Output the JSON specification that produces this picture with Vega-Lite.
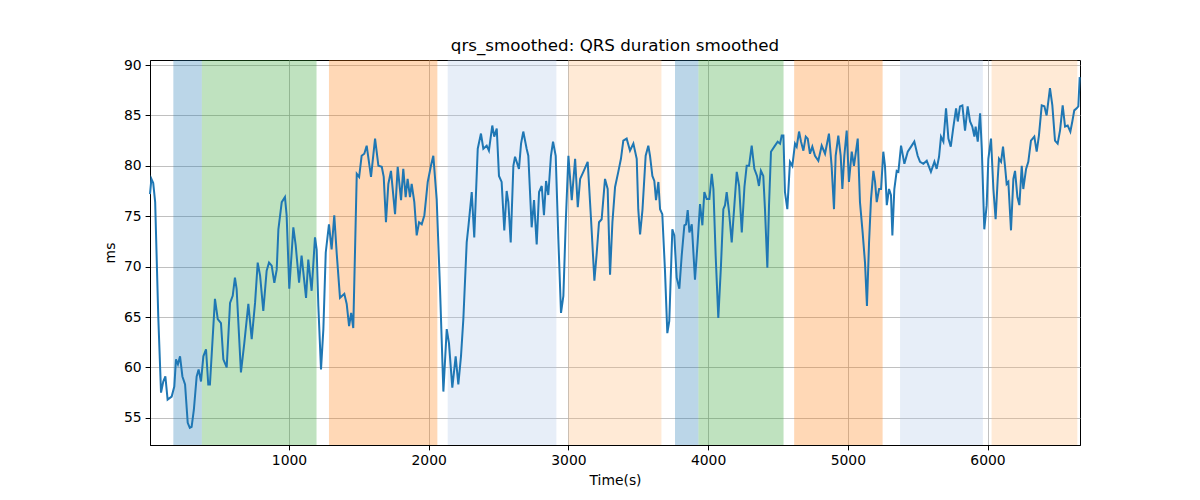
{
  "$schema": "https://vega.github.io/schema/vega-lite/v6.json",
  "width": 930,
  "height": 385,
  "autosize": {"type": "none"},
  "padding": {"left": 150, "top": 60, "right": 120, "bottom": 55},
  "title": {
    "text": "qrs_smoothed: QRS duration smoothed",
    "font": "DejaVu Sans",
    "fontSize": 16.7,
    "fontWeight": "normal",
    "color": "black",
    "offset": 3
  },
  "datasets": {
    "bands": [
      {"start": 172, "end": 376, "kind": "a"},
      {"start": 376, "end": 1197, "kind": "b"},
      {"start": 1286, "end": 2062, "kind": "c"},
      {"start": 2136, "end": 2914, "kind": "d"},
      {"start": 3000, "end": 3666, "kind": "e"},
      {"start": 3763, "end": 3931, "kind": "a"},
      {"start": 3931, "end": 4540, "kind": "b"},
      {"start": 4616, "end": 5249, "kind": "c"},
      {"start": 5374, "end": 5967, "kind": "d"},
      {"start": 6029, "end": 6643, "kind": "e"}
    ],
    "series": [
      {"t": 5, "ms": 77.2}, {"t": 15, "ms": 78.7}, {"t": 28, "ms": 78.3}, {"t": 42, "ms": 76.4},
      {"t": 64, "ms": 65.1}, {"t": 84, "ms": 57.5}, {"t": 100, "ms": 58.6}, {"t": 115, "ms": 59.1},
      {"t": 131, "ms": 56.8}, {"t": 160, "ms": 57.1}, {"t": 179, "ms": 58.1}, {"t": 191, "ms": 60.8},
      {"t": 205, "ms": 60.3}, {"t": 220, "ms": 61.1}, {"t": 237, "ms": 59.1}, {"t": 256, "ms": 58.3},
      {"t": 275, "ms": 54.5}, {"t": 290, "ms": 54.0}, {"t": 303, "ms": 54.1}, {"t": 319, "ms": 55.8},
      {"t": 339, "ms": 59.1}, {"t": 353, "ms": 59.8}, {"t": 370, "ms": 58.6}, {"t": 387, "ms": 61.1},
      {"t": 406, "ms": 61.8}, {"t": 422, "ms": 58.3}, {"t": 434, "ms": 58.3}, {"t": 470, "ms": 66.8},
      {"t": 490, "ms": 64.8}, {"t": 513, "ms": 64.4}, {"t": 530, "ms": 60.8}, {"t": 554, "ms": 60.0},
      {"t": 578, "ms": 66.4}, {"t": 597, "ms": 67.1}, {"t": 613, "ms": 68.9}, {"t": 625, "ms": 67.8},
      {"t": 656, "ms": 59.5}, {"t": 680, "ms": 62.4}, {"t": 709, "ms": 66.3}, {"t": 733, "ms": 62.8},
      {"t": 757, "ms": 66.4}, {"t": 776, "ms": 70.4}, {"t": 793, "ms": 69.1}, {"t": 816, "ms": 65.6},
      {"t": 840, "ms": 69.6}, {"t": 857, "ms": 70.4}, {"t": 876, "ms": 70.1}, {"t": 895, "ms": 68.4},
      {"t": 912, "ms": 69.7}, {"t": 924, "ms": 73.7}, {"t": 948, "ms": 76.4}, {"t": 971, "ms": 76.9},
      {"t": 983, "ms": 75.1}, {"t": 1002, "ms": 67.8}, {"t": 1031, "ms": 73.9}, {"t": 1048, "ms": 72.1},
      {"t": 1072, "ms": 68.4}, {"t": 1090, "ms": 71.1}, {"t": 1122, "ms": 66.9}, {"t": 1138, "ms": 70.7},
      {"t": 1162, "ms": 67.6}, {"t": 1186, "ms": 72.9}, {"t": 1198, "ms": 71.7}, {"t": 1210, "ms": 66.1},
      {"t": 1229, "ms": 59.8}, {"t": 1246, "ms": 63.8}, {"t": 1263, "ms": 71.4}, {"t": 1286, "ms": 74.2},
      {"t": 1305, "ms": 71.7}, {"t": 1324, "ms": 75.1}, {"t": 1341, "ms": 71.4}, {"t": 1365, "ms": 66.9},
      {"t": 1396, "ms": 67.3}, {"t": 1413, "ms": 66.3}, {"t": 1430, "ms": 64.1}, {"t": 1445, "ms": 65.4},
      {"t": 1460, "ms": 63.9}, {"t": 1485, "ms": 79.2}, {"t": 1502, "ms": 78.9}, {"t": 1520, "ms": 81.0},
      {"t": 1539, "ms": 81.2}, {"t": 1556, "ms": 82.0}, {"t": 1587, "ms": 78.9}, {"t": 1616, "ms": 82.7},
      {"t": 1640, "ms": 80.0}, {"t": 1664, "ms": 79.9}, {"t": 1678, "ms": 78.9}, {"t": 1694, "ms": 74.4},
      {"t": 1711, "ms": 78.2}, {"t": 1730, "ms": 79.5}, {"t": 1759, "ms": 75.2}, {"t": 1778, "ms": 79.9},
      {"t": 1802, "ms": 76.6}, {"t": 1818, "ms": 79.7}, {"t": 1835, "ms": 76.9}, {"t": 1849, "ms": 78.7},
      {"t": 1866, "ms": 76.9}, {"t": 1878, "ms": 78.2}, {"t": 1897, "ms": 76.4}, {"t": 1914, "ms": 73.1},
      {"t": 1931, "ms": 74.4}, {"t": 1950, "ms": 74.2}, {"t": 1969, "ms": 75.1}, {"t": 1993, "ms": 78.4},
      {"t": 2016, "ms": 80.0}, {"t": 2033, "ms": 81.0}, {"t": 2057, "ms": 76.7}, {"t": 2081, "ms": 67.8},
      {"t": 2105, "ms": 57.6}, {"t": 2129, "ms": 63.8}, {"t": 2145, "ms": 62.4}, {"t": 2169, "ms": 58.0},
      {"t": 2193, "ms": 61.1}, {"t": 2212, "ms": 58.3}, {"t": 2231, "ms": 61.1}, {"t": 2248, "ms": 64.8},
      {"t": 2272, "ms": 72.4}, {"t": 2285, "ms": 74.1}, {"t": 2308, "ms": 77.4}, {"t": 2326, "ms": 72.9},
      {"t": 2351, "ms": 81.7}, {"t": 2374, "ms": 83.2}, {"t": 2391, "ms": 81.7}, {"t": 2415, "ms": 82.0},
      {"t": 2431, "ms": 81.5}, {"t": 2455, "ms": 84.0}, {"t": 2469, "ms": 82.9}, {"t": 2487, "ms": 83.7},
      {"t": 2503, "ms": 79.0}, {"t": 2522, "ms": 78.4}, {"t": 2541, "ms": 73.6}, {"t": 2558, "ms": 77.5},
      {"t": 2570, "ms": 76.4}, {"t": 2587, "ms": 72.4}, {"t": 2606, "ms": 80.0}, {"t": 2618, "ms": 80.9},
      {"t": 2646, "ms": 79.7}, {"t": 2661, "ms": 82.2}, {"t": 2677, "ms": 83.4}, {"t": 2701, "ms": 81.7},
      {"t": 2713, "ms": 81.0}, {"t": 2737, "ms": 73.9}, {"t": 2754, "ms": 76.6}, {"t": 2773, "ms": 72.2},
      {"t": 2790, "ms": 77.4}, {"t": 2809, "ms": 78.0}, {"t": 2825, "ms": 75.1}, {"t": 2840, "ms": 78.5},
      {"t": 2856, "ms": 77.1}, {"t": 2875, "ms": 81.0}, {"t": 2890, "ms": 82.4}, {"t": 2909, "ms": 81.0},
      {"t": 2928, "ms": 72.7}, {"t": 2947, "ms": 65.4}, {"t": 2964, "ms": 67.1}, {"t": 2981, "ms": 74.4},
      {"t": 3000, "ms": 81.0}, {"t": 3024, "ms": 76.6}, {"t": 3048, "ms": 80.7}, {"t": 3067, "ms": 75.9},
      {"t": 3084, "ms": 78.7}, {"t": 3107, "ms": 79.4}, {"t": 3138, "ms": 80.4}, {"t": 3162, "ms": 74.7},
      {"t": 3186, "ms": 68.6}, {"t": 3203, "ms": 71.4}, {"t": 3219, "ms": 74.4}, {"t": 3238, "ms": 74.7},
      {"t": 3262, "ms": 78.7}, {"t": 3281, "ms": 77.7}, {"t": 3298, "ms": 69.2}, {"t": 3315, "ms": 74.4},
      {"t": 3334, "ms": 77.9}, {"t": 3357, "ms": 79.4}, {"t": 3376, "ms": 80.7}, {"t": 3393, "ms": 82.5},
      {"t": 3417, "ms": 82.7}, {"t": 3441, "ms": 81.5}, {"t": 3465, "ms": 82.2}, {"t": 3489, "ms": 80.7},
      {"t": 3500, "ms": 75.7}, {"t": 3513, "ms": 73.2}, {"t": 3530, "ms": 75.6}, {"t": 3553, "ms": 81.0},
      {"t": 3572, "ms": 82.0}, {"t": 3584, "ms": 81.0}, {"t": 3601, "ms": 79.0}, {"t": 3615, "ms": 78.5},
      {"t": 3627, "ms": 76.6}, {"t": 3644, "ms": 78.4}, {"t": 3656, "ms": 75.7}, {"t": 3672, "ms": 75.2},
      {"t": 3691, "ms": 69.7}, {"t": 3708, "ms": 63.4}, {"t": 3722, "ms": 64.6}, {"t": 3744, "ms": 73.7},
      {"t": 3758, "ms": 73.1}, {"t": 3775, "ms": 68.9}, {"t": 3794, "ms": 67.8}, {"t": 3811, "ms": 71.1},
      {"t": 3830, "ms": 74.1}, {"t": 3842, "ms": 74.2}, {"t": 3854, "ms": 75.6}, {"t": 3866, "ms": 73.4},
      {"t": 3883, "ms": 74.2}, {"t": 3906, "ms": 68.7}, {"t": 3925, "ms": 72.4}, {"t": 3942, "ms": 76.2},
      {"t": 3959, "ms": 74.1}, {"t": 3973, "ms": 77.4}, {"t": 3990, "ms": 76.7}, {"t": 4009, "ms": 76.7},
      {"t": 4026, "ms": 79.2}, {"t": 4038, "ms": 77.7}, {"t": 4054, "ms": 71.1}, {"t": 4073, "ms": 64.9},
      {"t": 4092, "ms": 70.1}, {"t": 4109, "ms": 75.7}, {"t": 4121, "ms": 76.1}, {"t": 4133, "ms": 77.4},
      {"t": 4150, "ms": 75.4}, {"t": 4169, "ms": 72.4}, {"t": 4188, "ms": 76.1}, {"t": 4205, "ms": 79.4},
      {"t": 4222, "ms": 78.0}, {"t": 4241, "ms": 73.4}, {"t": 4260, "ms": 77.9}, {"t": 4276, "ms": 80.0},
      {"t": 4293, "ms": 80.0}, {"t": 4312, "ms": 82.0}, {"t": 4331, "ms": 79.7}, {"t": 4350, "ms": 79.0},
      {"t": 4364, "ms": 78.0}, {"t": 4378, "ms": 79.5}, {"t": 4395, "ms": 79.0}, {"t": 4407, "ms": 75.7},
      {"t": 4424, "ms": 69.9}, {"t": 4436, "ms": 76.1}, {"t": 4450, "ms": 81.4}, {"t": 4474, "ms": 81.9},
      {"t": 4498, "ms": 82.4}, {"t": 4515, "ms": 82.2}, {"t": 4527, "ms": 83.0}, {"t": 4539, "ms": 83.0},
      {"t": 4550, "ms": 77.4}, {"t": 4567, "ms": 75.7}, {"t": 4586, "ms": 80.4}, {"t": 4603, "ms": 80.0},
      {"t": 4622, "ms": 82.2}, {"t": 4634, "ms": 81.9}, {"t": 4651, "ms": 83.4}, {"t": 4665, "ms": 82.4},
      {"t": 4682, "ms": 81.5}, {"t": 4699, "ms": 82.9}, {"t": 4713, "ms": 82.7}, {"t": 4729, "ms": 81.2},
      {"t": 4746, "ms": 81.9}, {"t": 4765, "ms": 81.0}, {"t": 4789, "ms": 80.5}, {"t": 4813, "ms": 82.0},
      {"t": 4837, "ms": 81.2}, {"t": 4865, "ms": 83.2}, {"t": 4884, "ms": 80.0}, {"t": 4901, "ms": 75.7},
      {"t": 4913, "ms": 81.0}, {"t": 4932, "ms": 83.0}, {"t": 4949, "ms": 81.0}, {"t": 4961, "ms": 77.7},
      {"t": 4975, "ms": 81.0}, {"t": 4992, "ms": 83.5}, {"t": 5008, "ms": 78.4}, {"t": 5028, "ms": 81.4},
      {"t": 5044, "ms": 80.0}, {"t": 5071, "ms": 82.7}, {"t": 5087, "ms": 76.4}, {"t": 5106, "ms": 73.4},
      {"t": 5123, "ms": 70.4}, {"t": 5137, "ms": 66.1}, {"t": 5152, "ms": 72.4}, {"t": 5166, "ms": 76.7},
      {"t": 5183, "ms": 79.5}, {"t": 5195, "ms": 78.4}, {"t": 5207, "ms": 76.4}, {"t": 5224, "ms": 77.7},
      {"t": 5238, "ms": 77.7}, {"t": 5254, "ms": 81.4}, {"t": 5266, "ms": 80.0}, {"t": 5279, "ms": 76.1},
      {"t": 5295, "ms": 77.7}, {"t": 5309, "ms": 77.1}, {"t": 5319, "ms": 73.1}, {"t": 5333, "ms": 77.7},
      {"t": 5350, "ms": 79.5}, {"t": 5362, "ms": 79.4}, {"t": 5381, "ms": 82.0}, {"t": 5405, "ms": 80.2},
      {"t": 5429, "ms": 81.4}, {"t": 5453, "ms": 81.9}, {"t": 5476, "ms": 82.4}, {"t": 5500, "ms": 81.0},
      {"t": 5517, "ms": 80.4}, {"t": 5541, "ms": 80.2}, {"t": 5565, "ms": 80.5}, {"t": 5595, "ms": 79.4},
      {"t": 5620, "ms": 80.4}, {"t": 5636, "ms": 79.7}, {"t": 5653, "ms": 80.9}, {"t": 5667, "ms": 82.9},
      {"t": 5684, "ms": 82.4}, {"t": 5703, "ms": 85.7}, {"t": 5720, "ms": 82.7}, {"t": 5737, "ms": 81.9},
      {"t": 5756, "ms": 83.9}, {"t": 5775, "ms": 85.7}, {"t": 5787, "ms": 84.4}, {"t": 5803, "ms": 85.9},
      {"t": 5820, "ms": 86.0}, {"t": 5839, "ms": 83.5}, {"t": 5858, "ms": 85.9}, {"t": 5875, "ms": 84.4},
      {"t": 5891, "ms": 83.9}, {"t": 5906, "ms": 82.9}, {"t": 5915, "ms": 83.9}, {"t": 5930, "ms": 82.4},
      {"t": 5947, "ms": 85.2}, {"t": 5959, "ms": 81.7}, {"t": 5977, "ms": 73.7}, {"t": 5994, "ms": 76.1},
      {"t": 6006, "ms": 80.7}, {"t": 6025, "ms": 82.7}, {"t": 6042, "ms": 77.7}, {"t": 6058, "ms": 74.7},
      {"t": 6073, "ms": 78.7}, {"t": 6082, "ms": 80.7}, {"t": 6097, "ms": 80.4}, {"t": 6111, "ms": 81.9},
      {"t": 6125, "ms": 80.0}, {"t": 6137, "ms": 78.2}, {"t": 6149, "ms": 78.4}, {"t": 6168, "ms": 73.6},
      {"t": 6185, "ms": 78.7}, {"t": 6197, "ms": 79.5}, {"t": 6214, "ms": 76.9}, {"t": 6228, "ms": 76.1},
      {"t": 6245, "ms": 80.0}, {"t": 6256, "ms": 77.7}, {"t": 6276, "ms": 79.7}, {"t": 6292, "ms": 80.4},
      {"t": 6311, "ms": 82.5}, {"t": 6335, "ms": 82.9}, {"t": 6352, "ms": 81.4}, {"t": 6368, "ms": 83.0},
      {"t": 6388, "ms": 86.0}, {"t": 6407, "ms": 85.9}, {"t": 6423, "ms": 85.0}, {"t": 6447, "ms": 87.7},
      {"t": 6464, "ms": 86.0}, {"t": 6483, "ms": 82.5}, {"t": 6502, "ms": 82.2}, {"t": 6519, "ms": 83.5},
      {"t": 6538, "ms": 86.0}, {"t": 6555, "ms": 83.9}, {"t": 6574, "ms": 84.0}, {"t": 6593, "ms": 83.4},
      {"t": 6607, "ms": 84.4}, {"t": 6621, "ms": 85.5}, {"t": 6638, "ms": 85.7}, {"t": 6650, "ms": 85.9},
      {"t": 6660, "ms": 88.8}
    ]
  },
  "layer": [
    {
      "data": {"name": "bands"},
      "mark": {"type": "rect", "opacity": 0.3},
      "encoding": {
        "x": {"field": "start", "type": "quantitative"},
        "x2": {"field": "end"},
        "color": {
          "field": "kind",
          "type": "nominal",
          "scale": {
            "domain": ["a", "b", "c", "d", "e"],
            "range": ["#1f77b4", "#2ca02c", "#ff7f0e", "#aec7e8", "#ffbb78"]
          },
          "legend": null
        }
      }
    },
    {
      "data": {"name": "series"},
      "mark": {"type": "line", "color": "#1f77b4", "strokeWidth": 2},
      "encoding": {
        "x": {
          "field": "t",
          "type": "quantitative",
          "title": "Time(s)",
          "scale": {"domain": [5, 6662], "nice": false, "zero": false},
          "axis": {"values": [1000, 2000, 3000, 4000, 5000, 6000], "format": "d"}
        },
        "y": {
          "field": "ms",
          "type": "quantitative",
          "title": "ms",
          "scale": {"domain": [52.3, 90.5], "nice": false, "zero": false},
          "axis": {"values": [55, 60, 65, 70, 75, 80, 85, 90]}
        }
      }
    }
  ],
  "config": {
    "font": "DejaVu Sans",
    "view": {"stroke": "black", "strokeWidth": 1},
    "axis": {
      "labelFont": "DejaVu Sans",
      "labelFontSize": 13.9,
      "labelColor": "black",
      "labelPadding": 4,
      "titleFont": "DejaVu Sans",
      "titleFontSize": 13.9,
      "titleFontWeight": "normal",
      "titleColor": "black",
      "tickColor": "black",
      "tickSize": 4.9,
      "domainColor": "black",
      "gridColor": "#b0b0b0",
      "gridWidth": 0.8,
      "gridOpacity": 1
    },
    "axisX": {"titlePadding": 6},
    "axisY": {"titlePadding": 6}
  }
}
